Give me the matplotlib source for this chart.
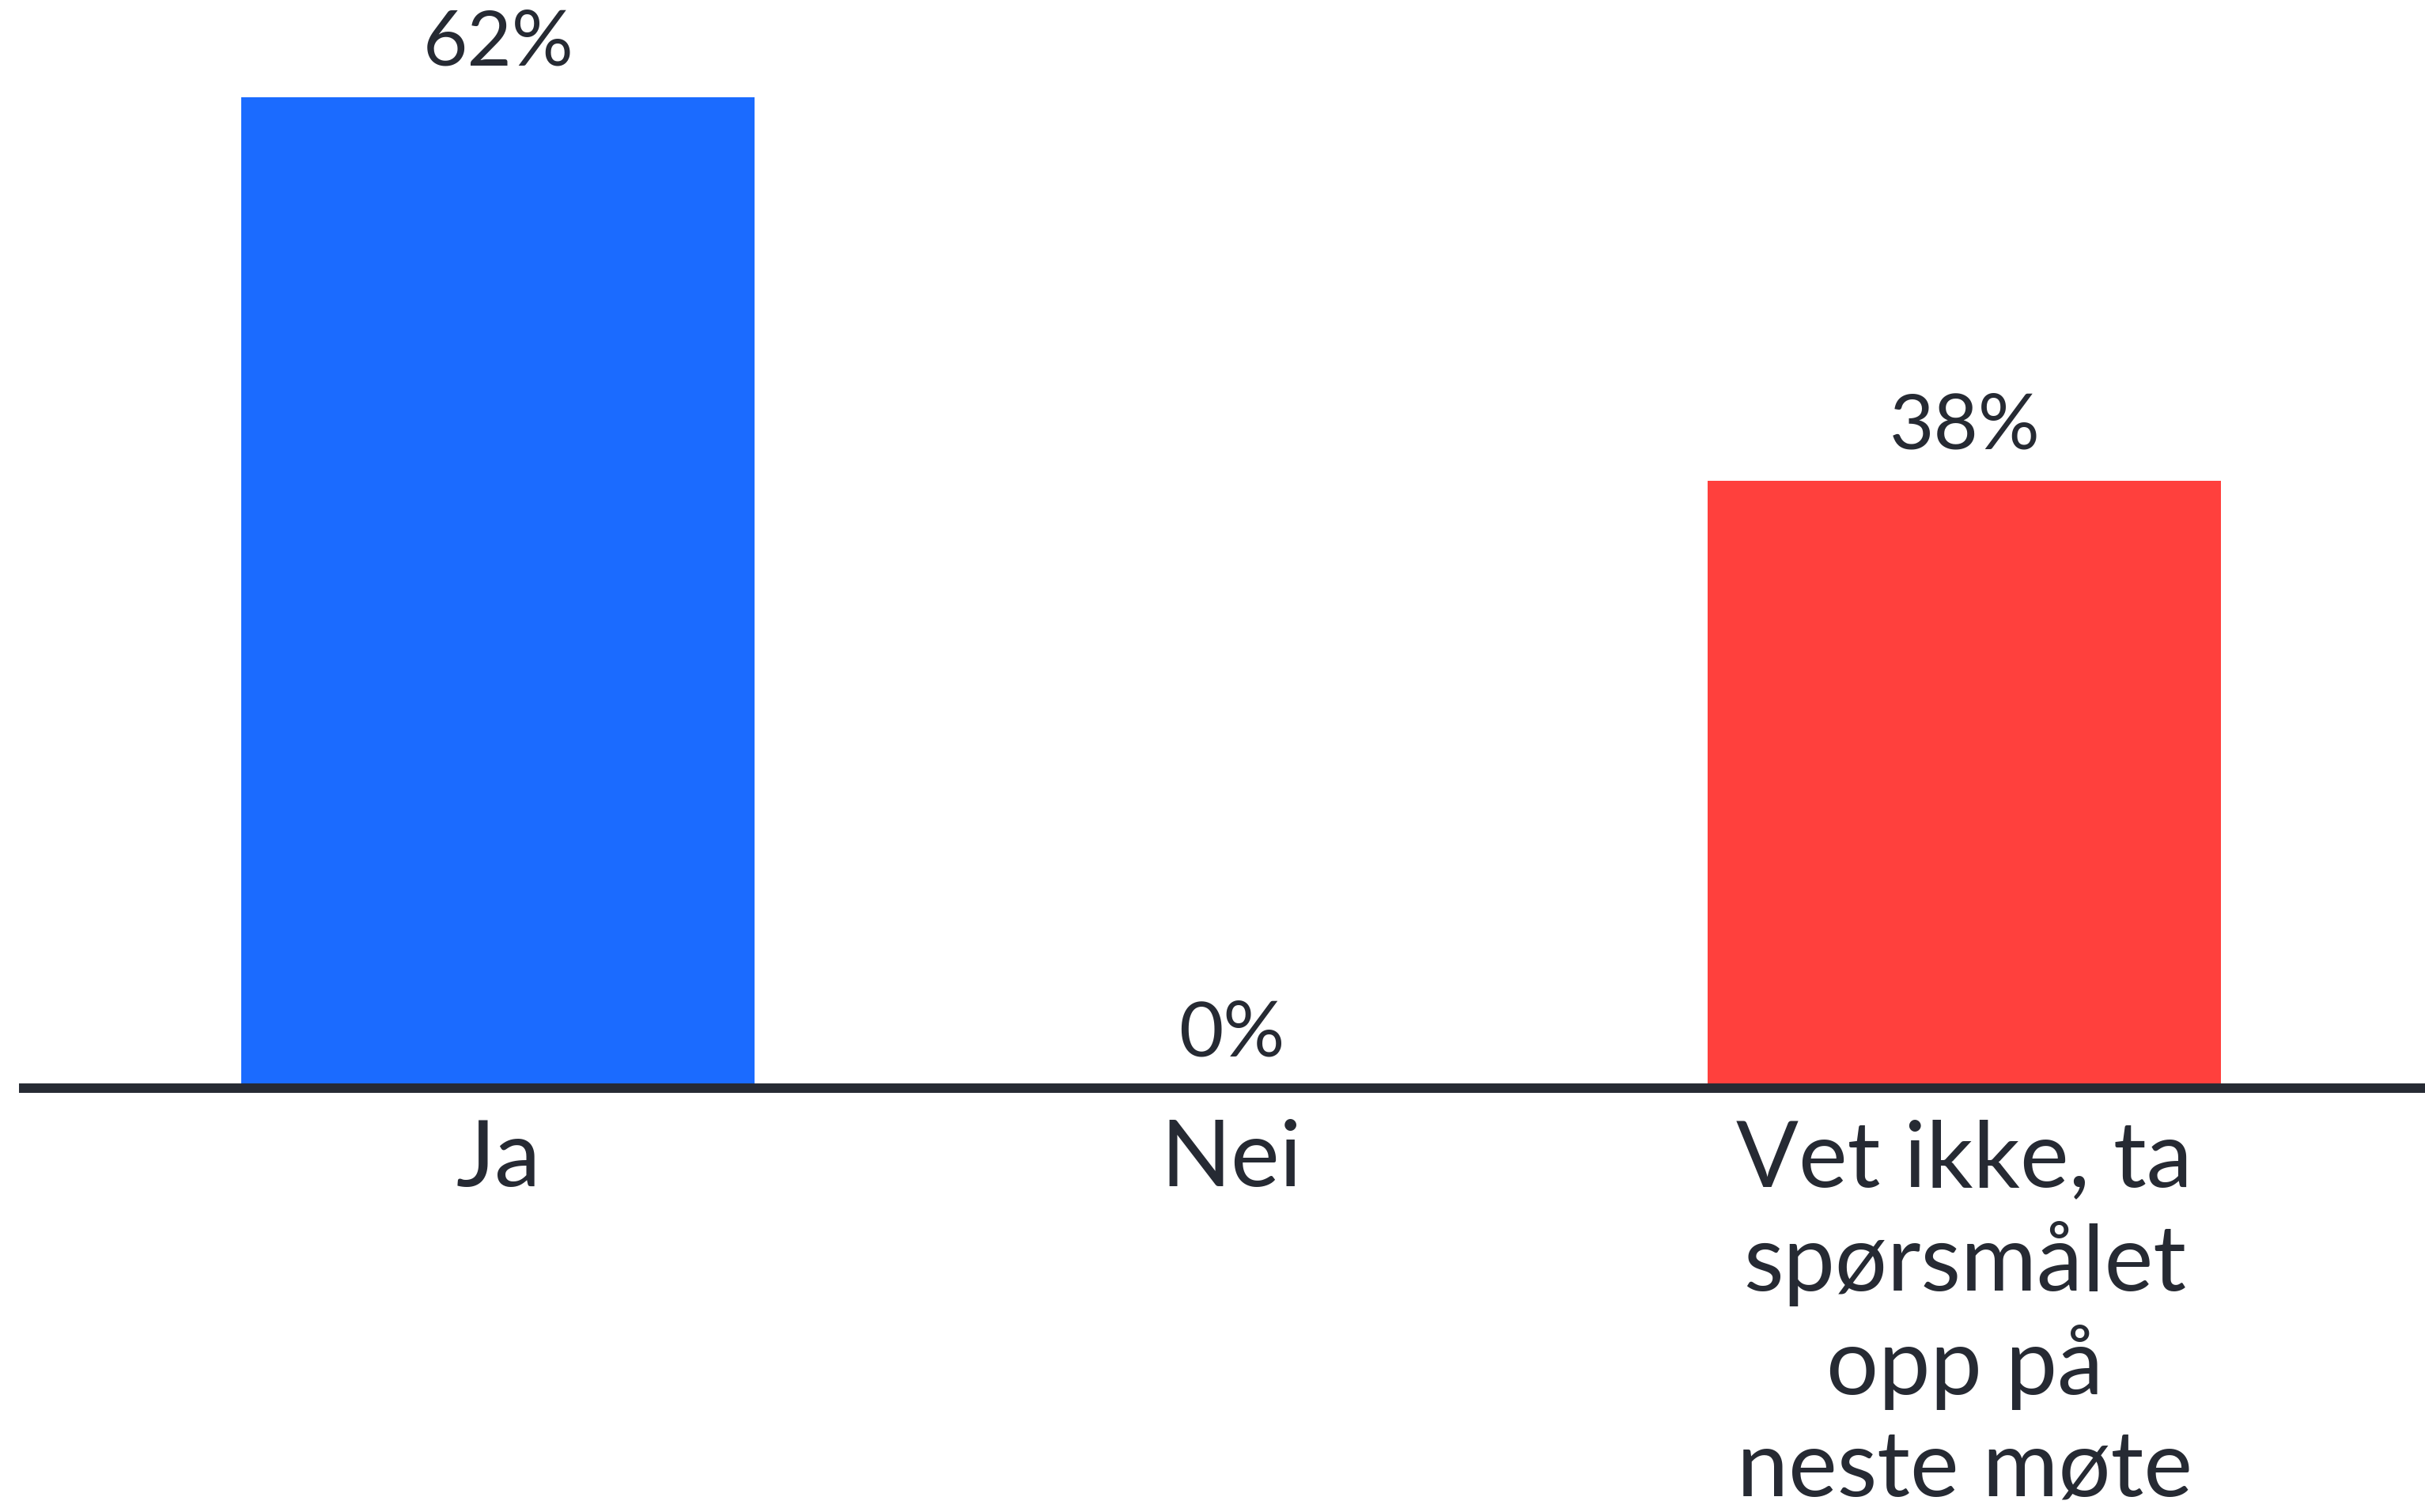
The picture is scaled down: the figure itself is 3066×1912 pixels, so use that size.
import matplotlib.pyplot as plt

categories = ["Ja", "Nei", "Vet ikke, ta\nspørsmålet\nopp på\nneste møte"]
values = [62, 0, 38]
colors = ["#1B6BFF", "#1B6BFF", "#FF403D"]
text_color = "#262A33"

plt.rcParams['font.family'] = ['Lato', 'DejaVu Sans']

fig = plt.figure(figsize=(30.66, 19.12), dpi=100)
ax = fig.add_axes([30 / 3066, 536 / 1912, 1 - 30 / 3066, 1 - 536 / 1912])

x = list(range(len(categories)))
bars = ax.bar(x, values, width=0.7, color=colors, zorder=2)
ax.bar_label(bars, labels=[f"{v}%" for v in values], padding=17,
             fontsize=70, color=text_color)

ax.set_xlim(-0.647, 2.628)
ax.set_ylim(0, 68.1)
ax.set_xticks(x)
ax.set_xticklabels(categories, fontsize=84, color=text_color,
                   linespacing=1.27, va='top')
ax.tick_params(axis='x', length=0, pad=28)
ax.set_yticks([])

for s in ['top', 'right', 'left']:
    ax.spines[s].set_visible(False)
ax.spines['bottom'].set_linewidth(8.6)
ax.spines['bottom'].set_color(text_color)
ax.spines['bottom'].set_zorder(3)

for lbl in ax.get_xticklabels():
    lbl.set_clip_on(False)

fig.savefig("out.png", dpi=100, facecolor="white")
